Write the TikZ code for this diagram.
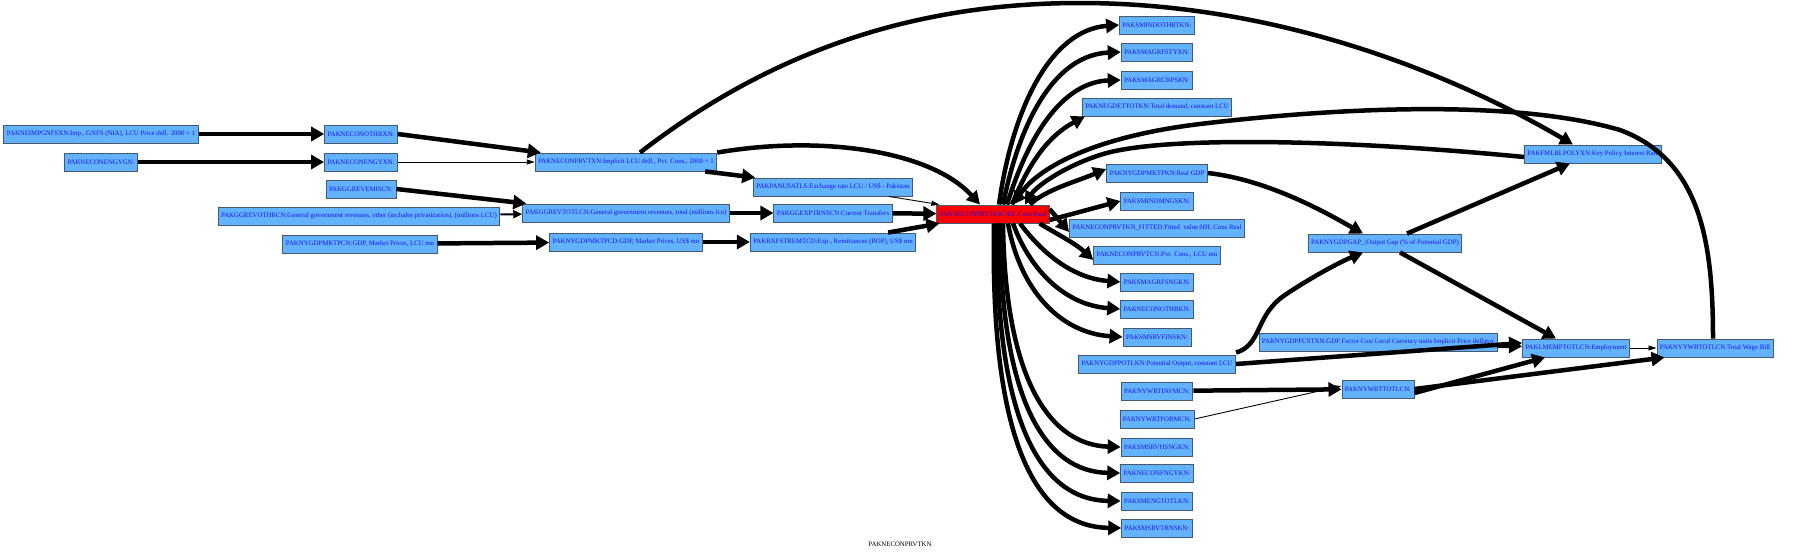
\documentclass[tikz,border=0pt]{standalone}
\usepackage{fontspec}
\setmainfont{Liberation Serif}
\usetikzlibrary{arrows.meta}

\begin{document}
\begin{tikzpicture}[x=1pt, y=-1pt,
  var/.style={draw=varborder, fill=varfill, line width=0.9pt, text=vartext,
    font=\fontsize{6.8}{8}\selectfont, minimum height=18pt, inner xsep=3pt, inner ysep=0pt},
  focus/.style={var, fill=focusfill},
  link/.style={line width=4.5pt, -{Triangle[length=13pt,width=14pt]}},
  midlink/.style={line width=2pt, -{Triangle[length=9pt,width=8pt]}},
  thinlink/.style={line width=0.9pt, -{Triangle[length=8pt,width=5pt]}}]

  \definecolor{varfill}{RGB}{99, 178, 255}
  \definecolor{varborder}{RGB}{70, 90, 110}
  \definecolor{vartext}{RGB}{20, 20, 240}
  \definecolor{focusfill}{RGB}{255, 0, 0}

  \useasboundingbox (0,0) rectangle (1800,552);

  % Left inputs
  \node[var] (neimpgnfsxn) at (101,134) {PAKNEIMPGNFSXN:Imp., GNFS (NIA), LCU Price defl. 2000 = 1};
  \node[var] (neconengygn) at (101,162) {PAKNECONENGYGN:};
  \node[var] (neconothrxn) at (361,134) {PAKNECONOTHRXN:};
  \node[var] (neconengyxn) at (361,162) {PAKNECONENGYXN:};
  \node[var] (ggrevemiscn) at (361,189) {PAKGGREVEMISCN:};
  \node[var] (ggrevothrcn) at (359,216) {PAKGGREVOTHRCN:General government revenues, other (includes privatization), (millions LCU)};
  \node[var] (nygdpmktpcn) at (360,244) {PAKNYGDPMKTPCN:GDP, Market Prices, LCU mn};
  \node[var] (neconprvtxn) at (626,162) {PAKNECONPRVTXN:Implicit LCU defl., Pvt. Cons., 2000 = 1};
  \node[var] (ggrevtotlcn) at (626,213) {PAKGGREVTOTLCN:General government revenues, total (millions lcu)};
  \node[var] (nygdpmktpcd) at (626,242) {PAKNYGDPMKTPCD:GDP, Market Prices, US\$ mn};
  \node[var] (panusatls) at (833,187) {PAKPANUSATLS:Exchange rate LCU / US\$ - Pakistan};
  \node[var] (ggexptrnscn) at (833,213) {PAKGGEXPTRNSCN:Current Transfers};
  \node[var] (bxfstremtcd) at (833,242) {PAKBXFSTREMTCD:Exp., Remittances (BOP), US\$ mn};

  % Focus variable
  \node[focus] (neconprvtkn) at (993,214) {PAKNECONPRVTKN:HH. Cons Real};

  % Right column
  \node[var] (smindothrtkn) at (1157,25) {PAKSMINDOTHRTKN:};
  \node[var] (smagrfstykn) at (1157,52) {PAKSMAGRFSTYKN:};
  \node[var] (smagrcrpskn) at (1157,80) {PAKSMAGRCRPSKN:};
  \node[var] (negdettotkn) at (1157,107) {PAKNEGDETTOTKN:Total demand, constant LCU};
  \node[var] (nygdpmktpkn) at (1157,173) {PAKNYGDPMKTPKN:Real GDP};
  \node[var] (smindmngskn) at (1157,201) {PAKSMINDMNGSKN:};
  \node[var] (fitted) at (1157,228) {PAKNECONPRVTKN\_FITTED:Fitted\ \ value:HH. Cons Real};
  \node[var] (neconprvtcn) at (1157,255) {PAKNECONPRVTCN:Pvt. Cons., LCU mn};
  \node[var] (smagrfsngkn) at (1157,282) {PAKSMAGRFSNGKN:};
  \node[var] (neconothrkn) at (1157,309) {PAKNECONOTHRKN:};
  \node[var] (smsrvfinskn) at (1157,337) {PAKSMSRVFINSKN:};
  \node[var] (nygdppotlkn) at (1157,364) {PAKNYGDPPOTLKN:Potential Output, constant LCU};
  \node[var] (nywrtinfmcn) at (1157,391) {PAKNYWRTINFMCN:};
  \node[var] (nywrtformcn) at (1157,419) {PAKNYWRTFORMCN:};
  \node[var] (smsrvhsngkn) at (1157,447) {PAKSMSRVHSNGKN:};
  \node[var] (neconfngykn) at (1157,473) {PAKNECONFNGYKN:};
  \node[var] (smengtotlkn) at (1157,501) {PAKSMENGTOTLKN:};
  \node[var] (smsrvtrnskn) at (1157,528) {PAKSMSRVTRNSKN:};

  % Far right
  \node[var] (nygdpgap) at (1385,243) {PAKNYGDPGAP\_:Output Gap (\% of Potential GDP)};
  \node[var] (nygdpfcstxn) at (1378,342) {PAKNYGDPFCSTXN:GDP Factor Cost Local Currency units Implicit Price deflator};
  \node[var] (nywrttotlcn) at (1378,389) {PAKNYWRTTOTLCN:};
  \node[var] (fmlblpolyxn) at (1593,154) {PAKFMLBLPOLYXN:Key Policy Interest Rate};
  \node[var] (lmemptotlcn) at (1576,348) {PAKLMEMPTOTLCN:Employment};
  \node[var] (nyywbtotlcn) at (1715,348) {PAKNYYWBTOTLCN:Total Wage Bill};

  \node[font=\fontsize{6.8}{8}\selectfont] (caption) at (900,544) {PAKNECONPRVTKN};

  % Left edges
  \draw[link] (neimpgnfsxn) -- (neconothrxn);
  \draw[link] (neconengygn) -- (neconengyxn);
  \draw[link] (neconothrxn.east) -- ([xshift=6pt]neconprvtxn.north west);
  \draw[thinlink] (neconengyxn) -- (neconprvtxn);
  \draw[link] (ggrevemiscn.east) -- ([xshift=4pt]ggrevtotlcn.north west);
  \draw[midlink] (ggrevothrcn) -- (ggrevtotlcn);
  \draw[link] (nygdpmktpcn) -- (nygdpmktpcd);
  \draw[link] ([xshift=-12pt]neconprvtxn.south east) -- ([xshift=2pt]panusatls.north west);
  \draw[link] (ggrevtotlcn) -- (ggexptrnscn);
  \draw[link] (nygdpmktpcd) -- (bxfstremtcd);
  \draw[thinlink] ([xshift=-24pt]panusatls.south east) -- ([xshift=3pt]neconprvtkn.north west);
  \draw[link] (ggexptrnscn) -- (neconprvtkn);
  \draw[link] ([xshift=-28pt]bxfstremtcd.north east) -- ([xshift=3pt]neconprvtkn.south west);
  \draw[link] (neconprvtxn.north east) .. controls (820,135) and (930,150) .. ([xshift=-13pt]neconprvtkn.north);
  \draw[link] ([xshift=14pt]neconprvtxn.north) .. controls (760,60) and (900,3) .. (1080,3)
    .. controls (1300,3) and (1480,90) .. ([xshift=-20pt]fmlblpolyxn.north);

  % Fan out of the focus variable
  \draw[link] ([xshift=6pt]neconprvtkn.north) .. controls (1012,110) and (1050,30) .. (smindothrtkn.west);
  \draw[link] ([xshift=10pt]neconprvtkn.north) .. controls (1020,120) and (1055,55) .. (smagrfstykn.west);
  \draw[link] ([xshift=14pt]neconprvtkn.north) .. controls (1030,130) and (1065,82) .. (smagrcrpskn.west);
  \draw[link] ([xshift=19pt]neconprvtkn.north) .. controls (1030,160) and (1050,135) .. ([xshift=3pt]negdettotkn.south west);
  \draw[link] ([xshift=37pt]neconprvtkn.north) .. controls (1045,190) and (1075,182) .. ([yshift=4pt]nygdpmktpkn.west);
  \draw[link] ([yshift=-6pt]neconprvtkn.east) -- (smindmngskn.west);
  \draw[link] ([yshift=5pt]neconprvtkn.east) -- ([yshift=-4pt]fitted.west);
  \draw[link] ([xshift=-10pt]neconprvtkn.south east) .. controls (1055,233) and (1075,243) .. ([yshift=-5pt]neconprvtcn.west);
  \draw[link] ([xshift=27pt]neconprvtkn.south) .. controls (1040,250) and (1070,278) .. (smagrfsngkn.west);
  \draw[link] ([xshift=20pt]neconprvtkn.south) .. controls (1030,270) and (1065,305) .. (neconothrkn.west);
  \draw[link] ([xshift=15pt]neconprvtkn.south) .. controls (1020,290) and (1060,333) .. (smsrvfinskn.west);
  \draw[link] ([xshift=10pt]neconprvtkn.south) .. controls (1005,380) and (1050,445) .. (smsrvhsngkn.west);
  \draw[link] ([xshift=7pt]neconprvtkn.south) .. controls (1000,400) and (1045,472) .. (neconfngykn.west);
  \draw[link] ([xshift=4pt]neconprvtkn.south) .. controls (995,420) and (1040,500) .. (smengtotlkn.west);
  \draw[link] ([xshift=1pt]neconprvtkn.south) .. controls (990,440) and (1035,527) .. (smsrvtrnskn.west);

  % Back edges into the focus variable
  \draw[link] ([xshift=-2pt]nyywbtotlcn.north) .. controls (1713,240) and (1700,160) .. (1620,130)
    .. controls (1500,95) and (1300,112) .. (1200,124)
    .. controls (1100,136) and (1040,165) .. ([xshift=20pt]neconprvtkn.north);
  \draw[link] ([yshift=-3pt]fmlblpolyxn.west) .. controls (1350,140) and (1160,135) .. (1100,155)
    .. controls (1060,168) and (1035,188) .. ([xshift=32pt]neconprvtkn.north);

  % Right edges
  \draw[link] (nygdpmktpkn.east) .. controls (1270,180) and (1330,215) .. ([xshift=-22pt]nygdpgap.north);
  \draw[link] ([yshift=2pt]nygdppotlkn.north east) .. controls (1262,345) and (1255,315) .. (1285,295)
    .. controls (1310,278) and (1340,262) .. ([xshift=-22pt]nygdpgap.south);
  \draw[link] ([xshift=22pt]nygdpgap.north) -- ([xshift=-23pt]fmlblpolyxn.south);
  \draw[link] ([xshift=15pt]nygdpgap.south) -- ([xshift=-20pt]lmemptotlcn.north);
  \draw[link] (nygdpfcstxn) -- (lmemptotlcn);
  \draw[link] (nygdppotlkn.east) -- ([yshift=5pt]lmemptotlcn.west);
  \draw[link] ([yshift=-4pt]nywrttotlcn.east) -- ([xshift=23pt]lmemptotlcn.south west);
  \draw[link] (nywrttotlcn.east) -- ([xshift=8pt]nyywbtotlcn.south west);
  \draw[thinlink] (lmemptotlcn) -- (nyywbtotlcn);
  \draw[link] (nywrtinfmcn) -- (nywrttotlcn);
  \draw[thinlink] (nywrtformcn.east) -- ([yshift=3pt]nywrttotlcn.west);

\end{tikzpicture}
\end{document}
